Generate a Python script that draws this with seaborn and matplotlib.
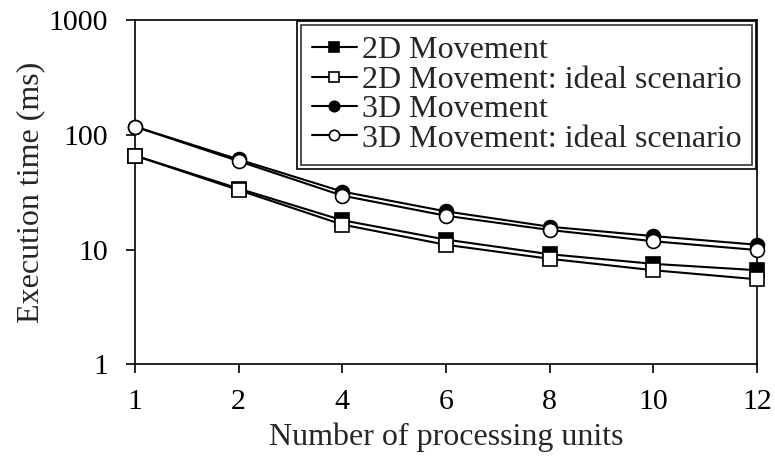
import matplotlib
matplotlib.use("Agg")
import matplotlib.pyplot as plt
import pandas as pd
import seaborn as sns
from matplotlib.patches import Rectangle

units = ["1", "2", "4", "6", "8", "10", "12"]
move_2d = [66, 34, 18, 12.2, 9.1, 7.5, 6.6]
move_2d_ideal = [66, 33, 16.5, 11, 8.3, 6.6, 5.5]
move_3d = [118, 61, 32, 21.5, 15.8, 13.1, 11.0]
move_3d_ideal = [118, 59, 29.5, 19.7, 14.8, 11.8, 9.9]

sns.set_style("ticks")
plt.rcParams["font.family"] = ["Liberation Serif", "DejaVu Serif"]

series = [
    ("2D Movement", move_2d, "s", "black"),
    ("2D Movement: ideal scenario", move_2d_ideal, "s", "white"),
    ("3D Movement", move_3d, "o", "black"),
    ("3D Movement: ideal scenario", move_3d_ideal, "o", "white"),
]
frames = []
for name, vals, _, _ in series:
    frames.append(pd.DataFrame({"pos": range(len(units)), "time": vals, "series": name}))
df = pd.concat(frames, ignore_index=True)

fig = plt.figure(figsize=(7.75, 4.57), dpi=100)
ax = fig.add_axes([0.174, 0.203, 0.803, 0.753])

# filled series first so the ideal (hollow) markers sit on top
for name, vals, mk, face in series:
    sns.lineplot(data=df[df["series"] == name], x="pos", y="time", ax=ax,
                 color="black", linewidth=1.5, marker=mk, markersize=10,
                 markerfacecolor=face, markeredgecolor="black", markeredgewidth=1.2,
                 label=name, zorder=3, clip_on=False)

ax.set_yscale("log")
ax.set_ylim(1, 1000)
ax.set_xlim(0, len(units) - 1)
ax.set_yticks([1, 10, 100, 1000], ["1", "10", "100", "1000"])
ax.minorticks_off()
ax.set_xticks(range(len(units)), units)
ax.tick_params(direction="out", length=6.5, width=1.2, labelsize=21.5, colors="black")
ax.tick_params(axis="x", pad=11)
ax.tick_params(axis="y", pad=13)
for sp in ax.spines.values():
    sp.set_linewidth(1.2)
    sp.set_color("black")
ax.set_xlabel("Number of processing units", fontsize=23, labelpad=6)
ax.set_ylabel("Execution time (ms)", fontsize=23, labelpad=2)

leg = ax.legend(loc="upper right", fontsize=23, frameon=True, fancybox=False,
                borderaxespad=0.15, handlelength=1.4, handletextpad=0.15,
                labelspacing=0.0, borderpad=0.35, markerscale=0.75)
leg.get_frame().set_edgecolor("black")
leg.get_frame().set_linewidth(1.2)

# second outer border around the legend, as in the reference
fig.canvas.draw()
bb = leg.get_window_extent()
gap = 4
outer = Rectangle((bb.x0 - gap, bb.y0 - gap), bb.width + 2 * gap, bb.height + 2 * gap,
                  transform=None, fill=False, edgecolor="black", linewidth=1.2, zorder=10)
fig.patches.append(outer)

fig.savefig("out.png", dpi=100)
